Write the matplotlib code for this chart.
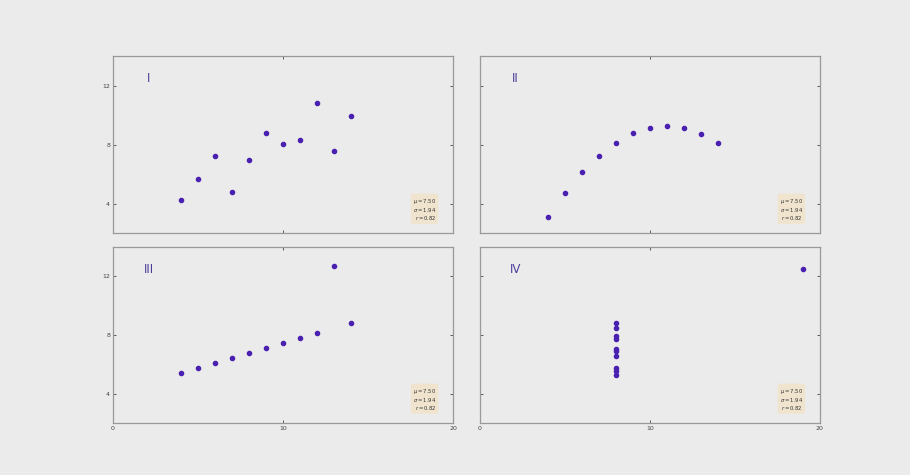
import matplotlib.pyplot as plt

# Anscombe's quartet
x = [10, 8, 13, 9, 11, 14, 6, 4, 12, 7, 5]
y1 = [8.04, 6.95, 7.58, 8.81, 8.33, 9.96, 7.24, 4.26, 10.84, 4.82, 5.68]
y2 = [9.14, 8.14, 8.74, 8.77, 9.26, 8.10, 6.13, 3.10, 9.13, 7.26, 4.74]
y3 = [7.46, 6.77, 12.74, 7.11, 7.81, 8.84, 6.08, 5.39, 8.15, 6.42, 5.73]
x4 = [8, 8, 8, 8, 8, 8, 8, 19, 8, 8, 8]
y4 = [6.58, 5.76, 7.71, 8.84, 8.47, 7.04, 5.25, 12.50, 5.56, 7.91, 6.89]
names = ['I', 'II', 'III', 'IV']
stats = '$\\mu=7.50$\n$\\sigma=1.94$\n$r=0.82$'

bg = '#ebebeb'
fig = plt.figure(figsize=(9.1, 4.75), dpi=100, facecolor=bg)

pos = [[0.124, 0.509, 0.374, 0.373],
       [0.527, 0.509, 0.374, 0.373],
       [0.124, 0.109, 0.374, 0.371],
       [0.527, 0.109, 0.374, 0.371]]
data = [(x, y1), (x, y2), (x, y3), (x4, y4)]

for k, (xs, ys) in enumerate(data):
    ax = fig.add_axes(pos[k], facecolor=bg)
    ax.plot(xs, ys, 'o', color='#4a20b0', ms=3)
    ax.set_xlim(0, 20)
    ax.set_ylim(2, 14)
    ax.set_xticks([0, 10, 20])
    ax.set_yticks([4, 8, 12])
    ax.tick_params(direction='in', length=2, width=0.6, labelsize=4.5,
                   colors='#444444', top=True, right=True, pad=2)
    for s in ax.spines.values():
        s.set_color('#999999')
        s.set_linewidth(0.9)
    if k < 2:
        ax.tick_params(labelbottom=False)
    if k % 2 == 1:
        ax.tick_params(labelleft=False)
    ax.text(0.105, 0.875, names[k], transform=ax.transAxes, fontsize=8.5,
            color='#4a3d9a', va='center', ha='center')
    ax.text(0.95, 0.065, stats, transform=ax.transAxes, fontsize=3.8,
            ha='right', va='bottom', multialignment='right', color='#333333',
            linespacing=1.0,
            bbox=dict(boxstyle='round,pad=0.4', facecolor='wheat',
                      edgecolor='none', alpha=0.5))

fig.savefig('out.png', dpi=100, facecolor=bg)
